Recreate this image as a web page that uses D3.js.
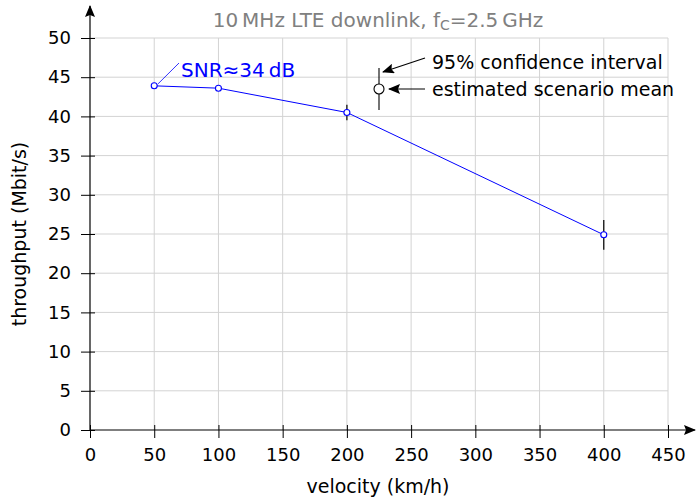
<!DOCTYPE html>
<html>
<head>
<meta charset="utf-8">
<script src="https://cdn.jsdelivr.net/npm/d3@7"></script>
<style>
  body { margin: 0; background: #fff; }
  text { font-family: "DejaVu Sans", sans-serif; }
</style>
</head>
<body>
<div id="chart"></div>
<script>
// data
var velocity = [50, 100, 200, 400];
var throughput = [43.9, 43.6, 40.5, 24.9];
var ciHalf = [0.15, 0.15, 1.0, 1.9];
var xTicks = [0, 50, 100, 150, 200, 250, 300, 350, 400, 450];
var yTicks = [0, 5, 10, 15, 20, 25, 30, 35, 40, 45, 50];

var width = 696,
    height = 498;

var svg = d3.select("#chart")
  .append("svg")
  .attr("width", width)
  .attr("height", height);

var x = d3.scaleLinear().domain([0, 450]).range([90, 668]);
var y = d3.scaleLinear().domain([0, 50]).range([430, 38]);

var defs = svg.append("defs");
defs.append("marker")
  .attr("id", "arr")
  .attr("viewBox", "0 0 12 10")
  .attr("refX", 11).attr("refY", 5)
  .attr("markerWidth", 12).attr("markerHeight", 10)
  .attr("markerUnits", "userSpaceOnUse")
  .attr("orient", "auto")
  .append("path")
  .attr("d", "M0,0 L12,5 L0,10 L2,5 Z")
  .attr("fill", "#000");

// grid
svg.append("g").selectAll("line")
  .data(xTicks.slice(1))
  .enter().append("line")
  .attr("x1", d => x(d)).attr("x2", d => x(d))
  .attr("y1", y(0)).attr("y2", y(50))
  .attr("stroke", "#d3d3d3").attr("stroke-width", 1);

svg.append("g").selectAll("line")
  .data(yTicks.slice(1))
  .enter().append("line")
  .attr("x1", x(0)).attr("x2", x(450))
  .attr("y1", d => y(d)).attr("y2", d => y(d))
  .attr("stroke", "#d3d3d3").attr("stroke-width", 1);

// axes
var xAxis = svg.append("g")
  .attr("transform", "translate(0," + y(0) + ")")
  .call(d3.axisBottom(x).tickValues(xTicks).tickSize(0).tickPadding(18));
xAxis.select(".domain").remove();
xAxis.selectAll("text").attr("font-size", 18).attr("fill", "#000");
xAxis.selectAll(".tick").append("line")
  .attr("y1", -5).attr("y2", 8).attr("stroke", "#000");

var yAxis = svg.append("g")
  .attr("transform", "translate(" + x(0) + ",0)")
  .call(d3.axisLeft(y).tickValues(yTicks).tickSize(0).tickPadding(19));
yAxis.select(".domain").remove();
yAxis.selectAll("text").attr("font-size", 18).attr("fill", "#000");
yAxis.selectAll(".tick").append("line")
  .attr("x1", -9).attr("x2", 5).attr("stroke", "#000");

svg.append("line")
  .attr("x1", x(0)).attr("x2", 695)
  .attr("y1", y(0)).attr("y2", y(0))
  .attr("stroke", "#000").attr("stroke-width", 1.2)
  .attr("marker-end", "url(#arr)");
svg.append("line")
  .attr("x1", x(0)).attr("x2", x(0))
  .attr("y1", y(0)).attr("y2", 6)
  .attr("stroke", "#000").attr("stroke-width", 1.2)
  .attr("marker-end", "url(#arr)");

// labels
svg.append("text")
  .attr("x", 378).attr("y", 27)
  .attr("text-anchor", "middle")
  .attr("font-size", 20).attr("fill", "#808080")
  .html('10\u2009MHz LTE downlink, f<tspan font-size="14" dy="3">C</tspan><tspan dy="-3">=2.5\u2009GHz</tspan>');

svg.append("text")
  .attr("x", 378).attr("y", 493)
  .attr("text-anchor", "middle")
  .attr("font-size", 19)
  .text("velocity (km/h)");

svg.append("text")
  .attr("transform", "translate(26," + y(25) + ") rotate(-90)")
  .attr("text-anchor", "middle")
  .attr("font-size", 19)
  .text("throughput (Mbit/s)");

// series
var pts = velocity.map((v, i) => ({ v: v, t: throughput[i], e: ciHalf[i] }));

svg.append("path")
  .datum(pts)
  .attr("fill", "none")
  .attr("stroke", "#0000ff")
  .attr("stroke-width", 1)
  .attr("d", d3.line().x(d => x(d.v)).y(d => y(d.t)));

svg.append("g").selectAll("line")
  .data(pts)
  .enter().append("line")
  .attr("x1", d => x(d.v)).attr("x2", d => x(d.v))
  .attr("y1", d => y(d.t - d.e)).attr("y2", d => y(d.t + d.e))
  .attr("stroke", "#000").attr("stroke-width", 1.2);

svg.append("g").selectAll("circle")
  .data(pts)
  .enter().append("circle")
  .attr("cx", d => x(d.v)).attr("cy", d => y(d.t))
  .attr("r", 3)
  .attr("fill", "#fff")
  .attr("stroke", "#0000ff")
  .attr("stroke-width", 1.1);

// SNR annotation
svg.append("line")
  .attr("x1", x(53)).attr("y1", y(43.9) - 2)
  .attr("x2", 179).attr("y2", 63)
  .attr("stroke", "#0000ff").attr("stroke-width", 0.8);
svg.append("text")
  .attr("x", 181).attr("y", 77)
  .attr("font-size", 20).attr("fill", "#0000ff")
  .text("SNR\u224834\u2009dB");

// legend sketch
var lx = x(225), ly = y(43.5);
svg.append("line")
  .attr("x1", lx).attr("x2", lx)
  .attr("y1", ly - 21).attr("y2", ly + 21)
  .attr("stroke", "#000").attr("stroke-width", 1.1);
svg.append("circle")
  .attr("cx", lx).attr("cy", ly).attr("r", 5)
  .attr("fill", "#fff").attr("stroke", "#000").attr("stroke-width", 1.1);
svg.append("line")
  .attr("x1", 425).attr("y1", 58)
  .attr("x2", lx + 4).attr("y2", 72)
  .attr("stroke", "#000").attr("stroke-width", 1.1)
  .attr("marker-end", "url(#arr)");
svg.append("line")
  .attr("x1", 425).attr("y1", ly)
  .attr("x2", lx + 10).attr("y2", ly)
  .attr("stroke", "#000").attr("stroke-width", 1.1)
  .attr("marker-end", "url(#arr)");
svg.append("text")
  .attr("x", 432).attr("y", 69)
  .attr("font-size", 19)
  .text("95% confidence interval");
svg.append("text")
  .attr("x", 432).attr("y", ly + 7)
  .attr("font-size", 19)
  .text("estimated scenario mean");
</script>
</body>
</html>
